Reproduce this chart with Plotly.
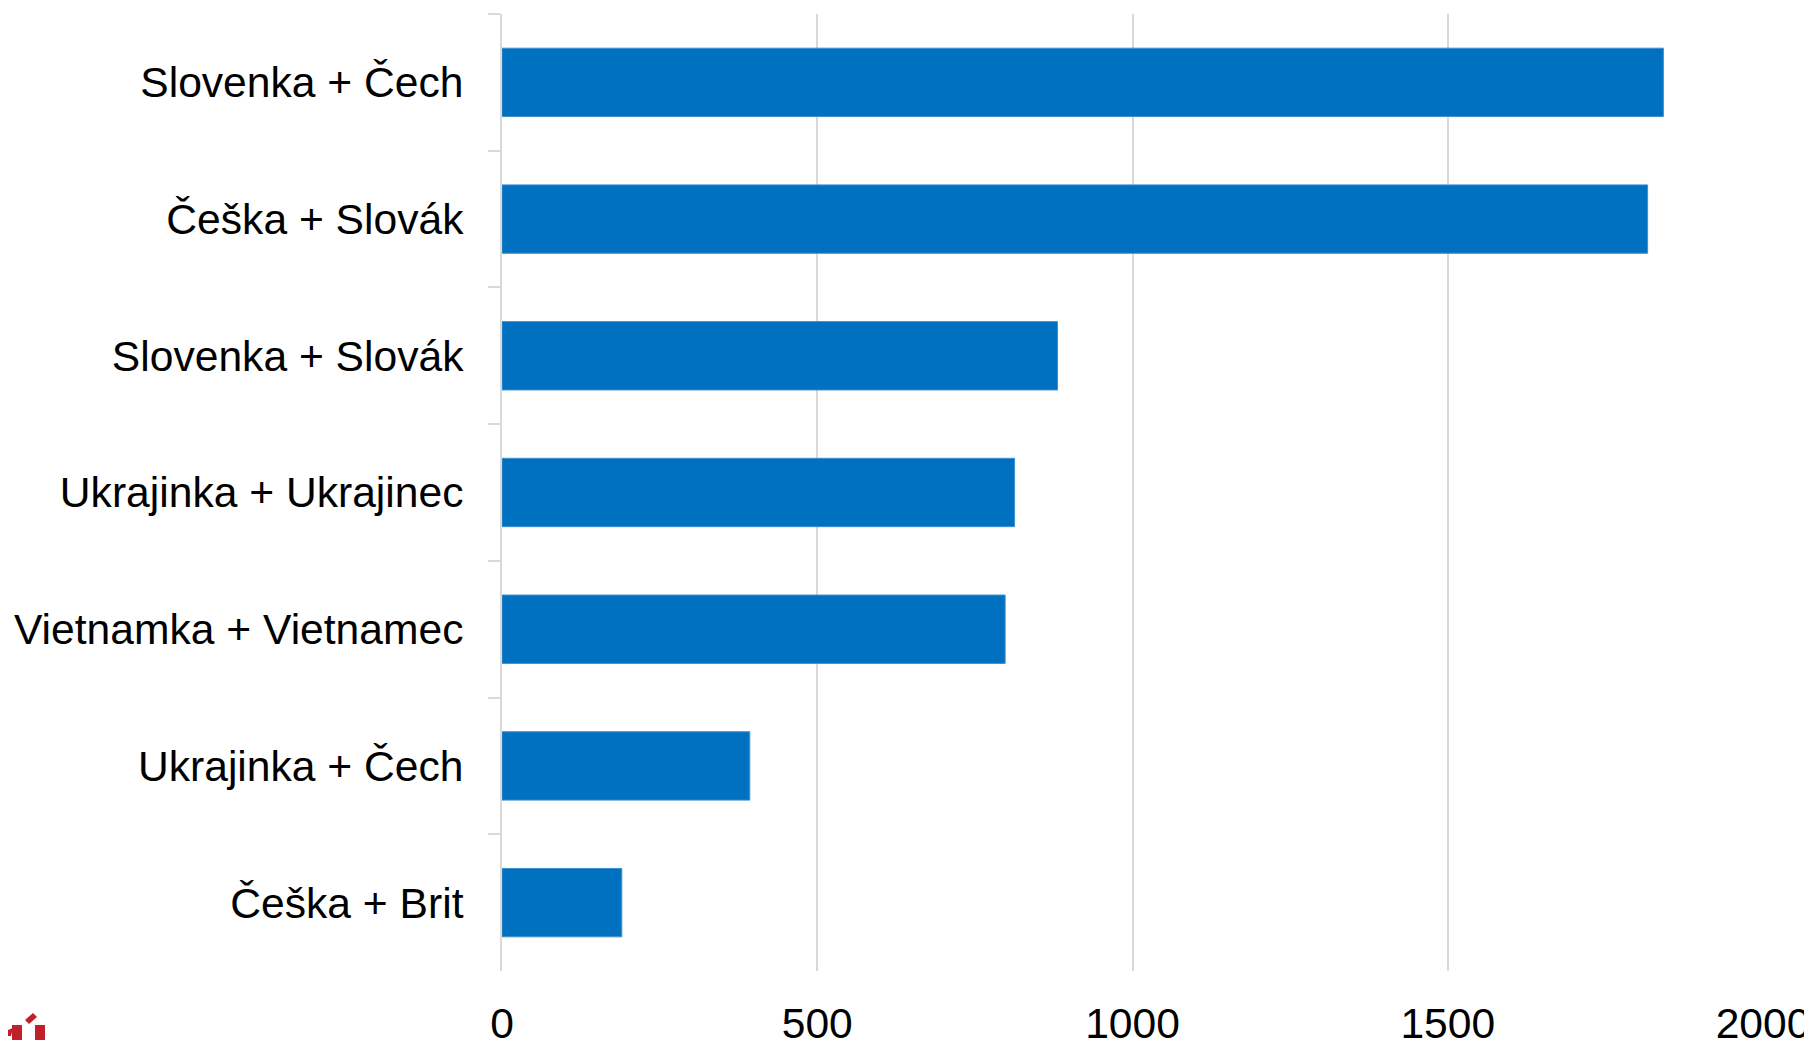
import plotly.graph_objects as go

categories = [
    "Slovenka + Čech",
    "Češka + Slovák",
    "Slovenka + Slovák",
    "Ukrajinka + Ukrajinec",
    "Vietnamka + Vietnamec",
    "Ukrajinka + Čech",
    "Češka + Brit",
]
values = [1842, 1817, 881, 813, 798, 393, 190]
x_ticks = [0, 500, 1000, 1500, 2000]

BAR_COLOR = "#0070C0"
GRID = "#D9D9D9"
FONT = "Liberation Sans, Arial, sans-serif"
FS = 42.6

# page body adds an 8px offset; figure sized to fit the 1812x1040 window
OFF = 8
W, H = 1804, 1032
L, R, T, B = 494, 49, 6, 69
PW, PH = W - L - R, H - T - B

fig = go.Figure(
    go.Bar(
        x=values,
        y=categories,
        orientation="h",
        marker=dict(color=BAR_COLOR, line=dict(color="#3E8FD0", width=1)),
        width=0.5,
        hoverinfo="x+y",
    )
)

fig.update_layout(
    width=W,
    height=H,
    margin=dict(l=L, r=R, t=T, b=B, pad=0, autoexpand=False),
    paper_bgcolor="white",
    plot_bgcolor="white",
    showlegend=False,
    font=dict(family=FONT, size=FS, color="black"),
    bargap=0.5,
)

fig.update_xaxes(
    range=[0, 2000],
    tickvals=x_ticks,
    ticktext=[str(v) for v in x_ticks],
    showgrid=True,
    gridcolor=GRID,
    gridwidth=2,
    zeroline=False,
    showline=False,
    ticks="",
    automargin=False,
    tickfont=dict(family=FONT, size=FS, color="black"),
    ticklabelstandoff=23,
)

fig.update_yaxes(
    autorange="reversed",
    showgrid=False,
    zeroline=False,
    showline=True,
    linecolor=GRID,
    linewidth=2,
    ticks="outside",
    tickson="boundaries",
    ticklen=12,
    tickwidth=2,
    tickcolor=GRID,
    automargin=False,
    tickfont=dict(family=FONT, size=FS, color="black"),
    ticklabelstandoff=28,
)


def px(x):
    return (x - OFF - L) / PW


def py(y):
    return (H - B - (y - OFF)) / PH


# partial red logo fragment at bottom-left corner
LOGO = "#C0202A"
for x0, y0, x1, y1 in [(12, 1025, 22, 1040), (35, 1025, 45, 1040)]:
    fig.add_shape(type="rect", xref="paper", yref="paper",
                  x0=px(x0), x1=px(x1), y0=py(y0), y1=py(y1),
                  fillcolor=LOGO, line=dict(width=0), layer="above")
for pts in [
    [(25, 1020), (33, 1013), (37, 1017), (29, 1024)],
    [(8, 1030), (13, 1028), (11, 1036), (8, 1036)],
]:
    path = "M " + " L ".join(f"{px(a)},{py(b)}" for a, b in pts) + " Z"
    fig.add_shape(type="path", xref="paper", yref="paper", path=path,
                  fillcolor=LOGO, line=dict(width=0), layer="above")

fig.write_html("out.html")
